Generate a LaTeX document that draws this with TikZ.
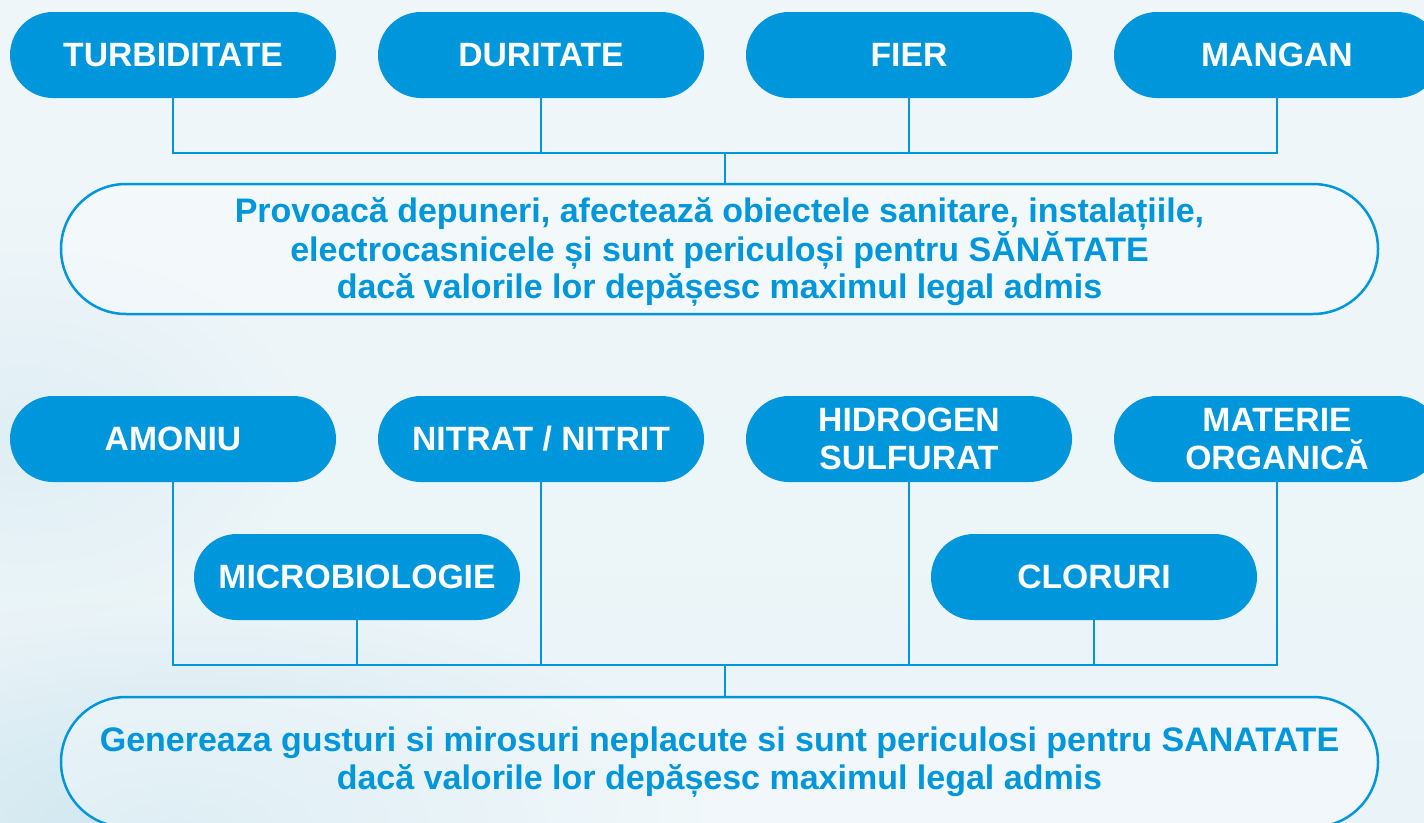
\documentclass[tikz,border=0pt]{standalone}
\usepackage{fontspec}
\setmainfont{Liberation Sans}
\usetikzlibrary{fadings}
\definecolor{mblue}{HTML}{0096DB}
\definecolor{bgtop}{HTML}{EFF6F9}
\definecolor{bgmid}{HTML}{F7FBFC}
\definecolor{bgbot}{HTML}{EAF4F8}
\definecolor{bgtint}{HTML}{CCE5EF}
\tikzfading[name=softblob, inner color=transparent!0, outer color=transparent!100]
\begin{document}
\begin{tikzpicture}[x=1pt,y=-1pt,
  label/.style={rectangle, rounded corners=43pt, fill=mblue, text=white,
    minimum width=326pt, minimum height=86pt, inner sep=0pt, align=center,
    font=\bfseries\fontsize{33.7}{38}\selectfont},
  note/.style={rectangle, rounded corners=65pt, draw=mblue, line width=2.5pt,
    fill=white, fill opacity=0.35, text opacity=1, text=mblue,
    minimum width=1317pt, minimum height=130pt, inner sep=0pt, align=center,
    font=\bfseries\fontsize{34}{37.5}\selectfont},
  link/.style={draw=mblue, line width=2.5pt}]
\useasboundingbox (0,0) rectangle (1424,822);
\begin{scope}
\clip (0,0) rectangle (1424,822);
\shade[top color=bgtop, middle color=bgmid, bottom color=bgbot] (0,0) rectangle (1424,822);
\fill[bgtint, path fading=softblob, opacity=0.9] (-350,600) rectangle (700,1050);
\fill[bgtint, path fading=softblob, opacity=0.4] (-250,250) rectangle (300,620);
\end{scope}

% top group
\node[label] (turb) at (173,55) {TURBIDITATE};
\node[label] (dur) at (541,55) {DURITATE};
\node[label] (fier) at (909,55) {FIER};
\node[label] (mang) at (1277,55) {MANGAN};
\coordinate (j1) at (725,153);
\node[note] (n1) at (719.5,249) {\rule{0pt}{0.9em}Provoacă depuneri, afectează obiectele sanitare, instalațiile,\\
electrocasnicele și sunt periculoși pentru SĂNĂTATE\\
dacă valorile lor depășesc maximul legal admis};

\draw[link] (turb.south) -- (turb.south |- j1) -- (mang.south |- j1) -- (mang.south);
\draw[link] (dur.south) -- (dur.south |- j1);
\draw[link] (fier.south) -- (fier.south |- j1);
\draw[link] (j1) -- (j1 |- n1.north);

% bottom group
\node[label] (amon) at (173,439) {AMONIU};
\node[label] (nitr) at (541,439) {NITRAT / NITRIT};
\node[label] (hidr) at (909,439) {HIDROGEN\\SULFURAT};
\node[label] (mat) at (1277,439) {MATERIE\\ORGANICĂ};
\node[label] (micro) at (357,577) {MICROBIOLOGIE};
\node[label] (clor) at (1094,577) {CLORURI};
\coordinate (j2) at (725,665);
\node[note] (n2) at (719.5,762) {Genereaza gusturi si mirosuri neplacute si sunt periculosi pentru SANATATE\\
dacă valorile lor depășesc maximul legal admis};

\draw[link] (amon.south) -- (amon.south |- j2) -- (mat.south |- j2) -- (mat.south);
\draw[link] (micro.south) -- (micro.south |- j2);
\draw[link] (nitr.south) -- (nitr.south |- j2);
\draw[link] (hidr.south) -- (hidr.south |- j2);
\draw[link] (clor.south) -- (clor.south |- j2);
\draw[link] (j2) -- (j2 |- n2.north);
\end{tikzpicture}
\end{document}
